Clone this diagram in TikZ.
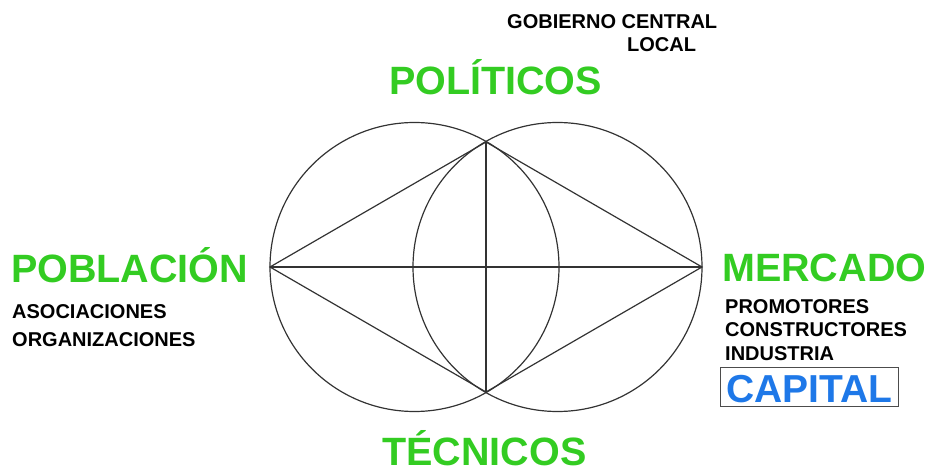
\documentclass[tikz,border=0pt]{standalone}
\usepackage{fontspec}
\setmainfont{Liberation Sans}
\usepackage{xcolor}
\definecolor{actorgreen}{RGB}{51,204,34}
\definecolor{capitalblue}{RGB}{30,120,232}
\tikzset{
  actor/.style={text=actorgreen, inner sep=0pt, font=\bfseries\fontsize{39.5bp}{44bp}\selectfont},
  member/.style={text=black, inner sep=0pt, font=\bfseries\fontsize{20bp}{24bp}\selectfont},
  geom/.style={draw=black!80, line width=1.2bp}
}

\begin{document}
\begin{tikzpicture}[x=1bp,y=-1bp]
   \useasboundingbox (0,0) rectangle (929,472);
   % the two circles
   \draw[geom] (414.5,267) circle (144.5);
   \draw[geom] (557.5,267) circle (144.5);
   % vertices of the rhombus
   \coordinate (west) at (270,267);
   \coordinate (east) at (702,267);
   \coordinate (north) at (486,142);
   \coordinate (south) at (486,392);
   \draw[geom] (west) -- (north) -- (east) -- (south) -- cycle;
   \draw[geom] (west) -- (east);
   \draw[geom] (north) -- (south);
   % actors
   \node[actor, anchor=base] (politicos) at (495.5,95) {POLÍTICOS};
   \node[actor, anchor=base] (tecnicos) at (484.5,465) {TÉCNICOS};
   \node[actor, anchor=base west] (poblacion) at (11,283) {POBLACIÓN};
   \node[actor, anchor=base west] (mercado) at (722,282) {MERCADO};
   % members
   \node[member, anchor=base west] (gobierno) at (507,28.5) {GOBIERNO CENTRAL};
   \node[member, anchor=base west] (local) at (627,52) {LOCAL};
   \node[member, anchor=base west] (asociaciones) at (12,318.5) {ASOCIACIONES};
   \node[member, anchor=base west] (organizaciones) at (12,347) {ORGANIZACIONES};
   \node[member, anchor=base west] (promotores) at (725,313.5) {PROMOTORES};
   \node[member, anchor=base west] (constructores) at (725,337) {CONSTRUCTORES};
   \node[member, anchor=base west] (industria) at (725,360.5) {INDUSTRIA};
   \node[draw=black!70, line width=1bp, text=capitalblue, anchor=base west,
         inner xsep=6bp, inner ysep=5bp, text height=29bp, text depth=0pt,
         font=\bfseries\fontsize{39bp}{44bp}\selectfont] (capital) at (720,402) {CAPITAL};
\end{tikzpicture}
\end{document}
